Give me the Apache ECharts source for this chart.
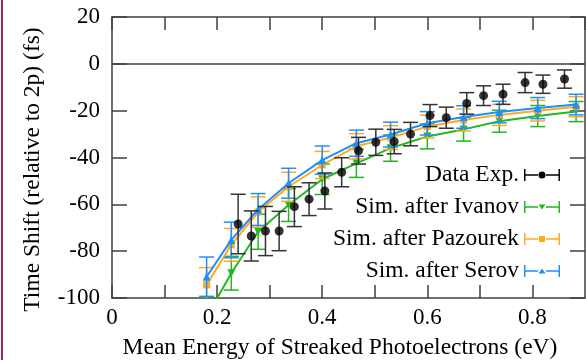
<!DOCTYPE html>
<html>
<head>
<meta charset="utf-8">
<script src="https://cdn.jsdelivr.net/npm/echarts@6/dist/echarts.min.js"></script>
<style>
  html, body { margin: 0; padding: 0; background: #fff; }
  #chart { width: 586px; height: 360px; }
</style>
</head>
<body>
<div id="chart"></div>
<script>
// Experimental points
const expEnergy = [0.24, 0.265, 0.292, 0.318, 0.347, 0.375, 0.405, 0.437, 0.469, 0.502,
  0.537, 0.568, 0.605, 0.636, 0.675, 0.707, 0.744, 0.786, 0.82, 0.861];
const expShift = [-68.4, -73.5, -71.4, -71.4, -61, -57.8, -54.3, -46.3, -37.1, -33.5,
  -33.2, -30, -22.1, -23, -16.9, -13.6, -13, -8, -8.7, -6.5];
const expError = [12.7, 10.7, 10.5, 8.4, 8.5, 7, 7.7, 6.2, 5.7, 5.6,
  5.2, 5, 4.7, 4.5, 4.6, 4.2, 4.3, 4.3, 3.9, 3.9];

// Simulations (shared energies)
const simEnergy = [0.18, 0.227, 0.278, 0.336, 0.40, 0.465, 0.53, 0.60, 0.669, 0.737, 0.81, 0.883];
const ivanovShift = [-108, -89.4, -71.7, -60.3, -49.3, -42.5, -36, -31, -28, -24.5, -22.3, -20.4];
const ivanovError = [8, 7.2, 7.5, 7, 6.5, 6, 5.6, 5.3, 5, 4.7, 4.5, 4.3];
const pazourekShift = [-94.4, -77.3, -63.3, -52.5, -43.2, -35.2, -31.5, -26.8, -24, -21.8, -20, -18.3];
const pazourekError = [7.4, 7, 6.5, 6.2, 5.8, 5.4, 5.1, 4.9, 4.7, 4.5, 4.4, 4.3];
const serovShift = [-90.9, -75.2, -62.2, -51, -41.1, -33.9, -30.2, -25.4, -22.7, -20.6, -18.9, -17.4];
const serovError = [8.4, 7.6, 6.8, 6.4, 6, 5.6, 5.3, 5, 4.8, 4.6, 4.5, 4.4];

const xTicks = [0, 0.2, 0.4, 0.6, 0.8];

const FONT = 'Liberation Serif';
const FRAME = '#404040';
const C_EXP = '#000000';
const C_IVANOV = '#22b822';
const C_PAZOUREK = '#ffaa1d';
const C_SEROV = '#1e8fff';

const zip = (xs, ys, es) => xs.map((x, i) => [x, ys[i], es[i]]);

const errorBars = (color, capHalf) => (params, api) => {
  const x = api.value(0);
  const lo = api.coord([x, api.value(1) - api.value(2)]);
  const hi = api.coord([x, api.value(1) + api.value(2)]);
  const style = { stroke: color, lineWidth: 1.5, fill: null };
  return {
    type: 'group',
    children: [
      { type: 'line', shape: { x1: lo[0], y1: lo[1], x2: hi[0], y2: hi[1] }, style },
      { type: 'line', shape: { x1: hi[0] - capHalf, y1: hi[1], x2: hi[0] + capHalf, y2: hi[1] }, style },
      { type: 'line', shape: { x1: lo[0] - capHalf, y1: lo[1], x2: lo[0] + capHalf, y2: lo[1] }, style },
    ],
  };
};

// legend sample: |--marker--|
const legendIcon = (marker) =>
  'path://M0,0h1.5v12h-1.5zM34.5,0h1.5v12h-1.5zM0,5.25h14v1.5h-14zM22,5.25h14v1.5h-14z' + marker;

const errSeries = (name, data, color, z) => ({
  name,
  type: 'custom',
  clip: true,
  z,
  renderItem: errorBars(color, 7.5),
  encode: { x: 0, y: 1 },
  data,
  silent: true,
});

const simLine = (name, ys, color, symbol, size, rotate, z) => ({
  name,
  type: 'line',
  data: simEnergy.map((x, i) => [x, ys[i]]),
  symbol,
  symbolSize: size,
  symbolRotate: rotate,
  showSymbol: true,
  clip: true,
  z,
  lineStyle: { color, width: 2 },
  itemStyle: { color },
});

const frameLine = { show: true, onZero: false, lineStyle: { color: FRAME, width: 1.5 } };

const chart = echarts.init(document.getElementById('chart'));
chart.setOption({
  backgroundColor: '#fff',
  animation: false,
  textStyle: { fontFamily: FONT },
  graphic: [
    { type: 'rect', left: 1, top: 0, shape: { width: 2, height: 360 }, style: { fill: '#a3284c' } },
  ],
  grid: { left: 112, right: 1, top: 17, bottom: 62, containLabel: false, outerBoundsMode: 'none' },
  legend: {
    orient: 'vertical',
    right: 21,
    top: 158,
    align: 'right',
    itemWidth: 36,
    itemHeight: 12,
    itemGap: 8,
    selectedMode: false,
    textStyle: { color: '#000', fontSize: 23.5, fontFamily: FONT, lineHeight: 23.5 },
    data: [
      { name: 'Data Exp.', icon: legendIcon('M14.5,6a3.5,3.5 0 1,1 7,0a3.5,3.5 0 1,1 -7,0z'), itemStyle: { color: C_EXP } },
      { name: 'Sim. after Ivanov', icon: legendIcon('M14.5,3.5h7l-3.5,5z'), itemStyle: { color: C_IVANOV } },
      { name: 'Sim. after Pazourek', icon: legendIcon('M15,3h6v6h-6z'), itemStyle: { color: C_PAZOUREK } },
      { name: 'Sim. after Serov', icon: legendIcon('M14.5,8.5h7l-3.5,-5z'), itemStyle: { color: C_SEROV } },
    ],
  },
  xAxis: [
    {
      type: 'value',
      min: 0,
      max: 0.9,
      interval: 0.1,
      name: 'Mean Energy of Streaked Photoelectrons (eV)',
      nameLocation: 'middle',
      nameGap: 38,
      nameTextStyle: { color: '#000', fontSize: 23.5, fontFamily: FONT, padding: [0, 17, 0, 0] },
      axisLine: frameLine,
      axisTick: { show: true, inside: true, length: 13, lineStyle: { color: FRAME, width: 1.5 } },
      axisLabel: {
        color: '#000',
        fontSize: 23,
        fontFamily: FONT,
        margin: 8,
        showMaxLabel: false,
        formatter: (v) => {
          const t = xTicks.find((k) => Math.abs(k - v) < 1e-6);
          return t === undefined ? '' : String(t);
        },
      },
      splitLine: { show: false },
    },
    {
      type: 'value',
      position: 'top',
      min: 0,
      max: 0.9,
      interval: 0.1,
      axisLine: frameLine,
      axisTick: { show: true, inside: true, length: 13, lineStyle: { color: FRAME, width: 1.5 } },
      axisLabel: { show: false },
      splitLine: { show: false },
    },
  ],
  yAxis: [
    {
      type: 'value',
      min: -100,
      max: 20,
      interval: 20,
      name: 'Time Shift (relative to 2p) (fs)',
      nameLocation: 'middle',
      nameGap: 67,
      nameTextStyle: { color: '#000', fontSize: 23.5, fontFamily: FONT, padding: [0, 24, 0, 0] },
      axisLine: frameLine,
      axisTick: { show: true, inside: true, length: 15, lineStyle: { color: FRAME, width: 1.5 } },
      axisLabel: { color: '#000', fontSize: 23, fontFamily: FONT, margin: 12 },
      splitLine: { show: false },
    },
    {
      type: 'value',
      position: 'right',
      min: -100,
      max: 20,
      interval: 20,
      axisLine: frameLine,
      axisTick: { show: true, inside: true, length: 15, lineStyle: { color: FRAME, width: 1.5 } },
      axisLabel: { show: false },
      splitLine: { show: false },
    },
  ],
  series: [
    errSeries('Sim. after Ivanov', zip(simEnergy, ivanovShift, ivanovError), C_IVANOV, 2),
    simLine('Sim. after Ivanov', ivanovShift, C_IVANOV, 'triangle', 8, 180, 3),
    errSeries('Sim. after Pazourek', zip(simEnergy, pazourekShift, pazourekError), C_PAZOUREK, 4),
    simLine('Sim. after Pazourek', pazourekShift, C_PAZOUREK, 'rect', 7, 0, 5),
    errSeries('Sim. after Serov', zip(simEnergy, serovShift, serovError), C_SEROV, 6),
    simLine('Sim. after Serov', serovShift, C_SEROV, 'triangle', 8, 0, 7),
    errSeries('Data Exp.', zip(expEnergy, expShift, expError), '#333333', 8),
    {
      name: 'Data Exp.',
      type: 'scatter',
      data: expEnergy.map((x, i) => [x, expShift[i]]),
      symbol: 'circle',
      symbolSize: 9,
      z: 9,
      itemStyle: { color: C_EXP },
      markLine: {
        silent: true,
        symbol: 'none',
        label: { show: false },
        lineStyle: { color: FRAME, width: 1.5, type: 'solid' },
        data: [{ yAxis: 0 }],
      },
    },
  ],
});

window.addEventListener('resize', () => chart.resize());
</script>
</body>
</html>
